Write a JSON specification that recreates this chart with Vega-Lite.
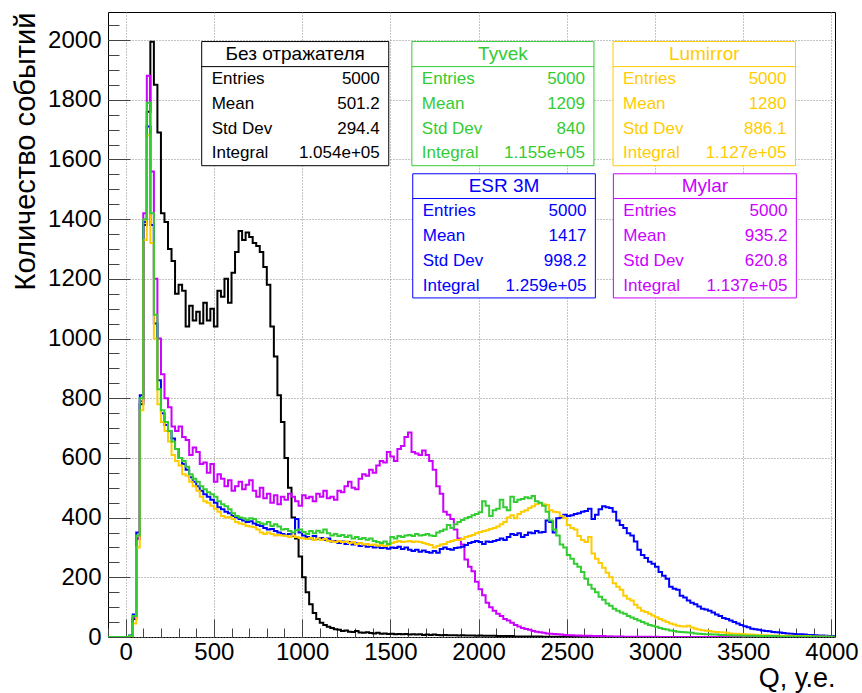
{
  "$schema": "https://vega.github.io/schema/vega-lite/v6.json",
  "width": 727,
  "height": 625,
  "autosize": "none",
  "padding": {"left": 108, "top": 12, "right": 27, "bottom": 56},
  "background": "white",
  "config": {
    "font": "Liberation Sans",
    "view": {"stroke": "#000000", "strokeWidth": 1},
    "axis": {"labelColor": "#000000", "titleColor": "#000000", "titleFontWeight": "normal", "tickColor": "#444444", "labelFlush": false, "labelOverlap": false, "labelBound": false}
  },
  "datasets": {
    "hist": [
      {"q":-100,"b":0,"t":0,"l":0,"e":0,"m":0},
      {"q":-80,"b":0,"t":0,"l":0,"e":0,"m":0},
      {"q":-60,"b":0,"t":0,"l":0,"e":0,"m":0},
      {"q":-40,"b":0,"t":0,"l":0,"e":0,"m":0},
      {"q":-20,"b":0,"t":0,"l":0,"e":0,"m":0},
      {"q":0,"b":0,"t":0,"l":0,"e":0,"m":0},
      {"q":20,"b":3,"t":4,"l":2,"e":5,"m":3},
      {"q":40,"b":60,"t":70,"l":45,"e":75,"m":65},
      {"q":60,"b":330,"t":340,"l":300,"e":350,"m":330},
      {"q":80,"b":780,"t":800,"l":760,"e":810,"m":790},
      {"q":100,"b":1380,"t":1400,"l":1330,"e":1390,"m":1420},
      {"q":120,"b":1760,"t":1790,"l":1680,"e":1710,"m":1880},
      {"q":140,"b":1994,"t":1420,"l":1320,"e":1380,"m":1560},
      {"q":160,"b":1850,"t":1080,"l":1000,"e":1050,"m":1200},
      {"q":180,"b":1690,"t":830,"l":780,"e":860,"m":1000},
      {"q":200,"b":1420,"t":760,"l":720,"e":750,"m":880},
      {"q":220,"b":1390,"t":720,"l":690,"e":710,"m":800},
      {"q":240,"b":1300,"t":690,"l":655,"e":690,"m":770},
      {"q":260,"b":1260,"t":655,"l":610,"e":665,"m":705},
      {"q":280,"b":1150,"t":630,"l":590,"e":630,"m":690},
      {"q":300,"b":1180,"t":600,"l":575,"e":600,"m":705},
      {"q":320,"b":1160,"t":590,"l":545,"e":580,"m":670},
      {"q":340,"b":1040,"t":570,"l":540,"e":560,"m":660},
      {"q":360,"b":1110,"t":545,"l":520,"e":535,"m":610},
      {"q":380,"b":1060,"t":530,"l":505,"e":520,"m":635},
      {"q":400,"b":1090,"t":520,"l":490,"e":505,"m":620},
      {"q":420,"b":1050,"t":505,"l":470,"e":490,"m":580},
      {"q":440,"b":1120,"t":495,"l":455,"e":478,"m":585},
      {"q":460,"b":1060,"t":485,"l":450,"e":470,"m":550},
      {"q":480,"b":1100,"t":478,"l":440,"e":460,"m":580},
      {"q":500,"b":1040,"t":470,"l":430,"e":450,"m":520},
      {"q":520,"b":1160,"t":455,"l":420,"e":435,"m":545},
      {"q":540,"b":1140,"t":445,"l":405,"e":428,"m":530},
      {"q":560,"b":1200,"t":438,"l":400,"e":420,"m":505},
      {"q":580,"b":1120,"t":428,"l":402,"e":415,"m":525},
      {"q":600,"b":1220,"t":415,"l":395,"e":405,"m":490},
      {"q":620,"b":1290,"t":405,"l":385,"e":400,"m":505},
      {"q":640,"b":1360,"t":400,"l":380,"e":395,"m":520},
      {"q":660,"b":1330,"t":398,"l":378,"e":390,"m":495},
      {"q":680,"b":1355,"t":392,"l":372,"e":385,"m":510},
      {"q":700,"b":1340,"t":398,"l":370,"e":388,"m":525},
      {"q":720,"b":1320,"t":395,"l":368,"e":380,"m":490},
      {"q":740,"b":1310,"t":385,"l":360,"e":375,"m":470},
      {"q":760,"b":1290,"t":380,"l":350,"e":372,"m":500},
      {"q":780,"b":1240,"t":378,"l":345,"e":365,"m":465},
      {"q":800,"b":1180,"t":385,"l":350,"e":360,"m":480},
      {"q":820,"b":1040,"t":372,"l":345,"e":362,"m":450},
      {"q":840,"b":940,"t":378,"l":340,"e":355,"m":475},
      {"q":860,"b":810,"t":370,"l":342,"e":350,"m":445},
      {"q":880,"b":720,"t":360,"l":340,"e":345,"m":470},
      {"q":900,"b":600,"t":362,"l":338,"e":340,"m":460},
      {"q":920,"b":500,"t":355,"l":335,"e":345,"m":480},
      {"q":940,"b":400,"t":350,"l":340,"e":338,"m":470},
      {"q":960,"b":330,"t":358,"l":335,"e":395,"m":455},
      {"q":980,"b":270,"t":360,"l":332,"e":350,"m":440},
      {"q":1000,"b":200,"t":352,"l":330,"e":340,"m":475},
      {"q":1020,"b":150,"t":345,"l":328,"e":335,"m":465},
      {"q":1040,"b":110,"t":355,"l":332,"e":330,"m":470},
      {"q":1060,"b":80,"t":348,"l":325,"e":338,"m":455},
      {"q":1080,"b":60,"t":356,"l":330,"e":328,"m":480},
      {"q":1100,"b":48,"t":350,"l":325,"e":332,"m":470},
      {"q":1120,"b":40,"t":360,"l":328,"e":325,"m":490},
      {"q":1140,"b":34,"t":348,"l":322,"e":330,"m":465},
      {"q":1160,"b":30,"t":340,"l":320,"e":320,"m":470},
      {"q":1180,"b":26,"t":345,"l":318,"e":322,"m":460},
      {"q":1200,"b":24,"t":338,"l":322,"e":315,"m":490},
      {"q":1220,"b":20,"t":342,"l":318,"e":320,"m":485},
      {"q":1240,"b":22,"t":335,"l":320,"e":312,"m":505},
      {"q":1260,"b":18,"t":340,"l":315,"e":318,"m":520},
      {"q":1280,"b":17,"t":330,"l":318,"e":310,"m":500},
      {"q":1300,"b":20,"t":335,"l":312,"e":314,"m":495},
      {"q":1320,"b":15,"t":328,"l":315,"e":305,"m":530},
      {"q":1340,"b":14,"t":332,"l":310,"e":308,"m":545},
      {"q":1360,"b":16,"t":326,"l":312,"e":302,"m":540},
      {"q":1380,"b":13,"t":330,"l":308,"e":305,"m":560},
      {"q":1400,"b":12,"t":322,"l":310,"e":300,"m":550},
      {"q":1420,"b":14,"t":318,"l":306,"e":302,"m":575},
      {"q":1440,"b":11,"t":315,"l":308,"e":298,"m":590},
      {"q":1460,"b":12,"t":320,"l":305,"e":300,"m":585},
      {"q":1480,"b":10,"t":312,"l":308,"e":296,"m":620},
      {"q":1500,"b":11,"t":335,"l":315,"e":300,"m":605},
      {"q":1520,"b":9,"t":330,"l":318,"e":298,"m":590},
      {"q":1540,"b":10,"t":338,"l":322,"e":302,"m":630},
      {"q":1560,"b":9,"t":335,"l":318,"e":295,"m":640},
      {"q":1580,"b":10,"t":340,"l":320,"e":300,"m":670},
      {"q":1600,"b":8,"t":342,"l":322,"e":292,"m":685},
      {"q":1620,"b":9,"t":338,"l":318,"e":288,"m":620},
      {"q":1640,"b":8,"t":345,"l":320,"e":292,"m":615},
      {"q":1660,"b":9,"t":340,"l":318,"e":286,"m":610},
      {"q":1680,"b":7,"t":342,"l":315,"e":290,"m":625},
      {"q":1700,"b":8,"t":345,"l":312,"e":285,"m":610},
      {"q":1720,"b":7,"t":340,"l":308,"e":282,"m":590},
      {"q":1740,"b":8,"t":338,"l":300,"e":288,"m":560},
      {"q":1760,"b":7,"t":350,"l":305,"e":282,"m":505},
      {"q":1780,"b":6,"t":355,"l":310,"e":295,"m":480},
      {"q":1800,"b":7,"t":360,"l":312,"e":300,"m":420},
      {"q":1820,"b":6,"t":375,"l":318,"e":295,"m":410},
      {"q":1840,"b":6,"t":365,"l":322,"e":292,"m":395},
      {"q":1860,"b":6,"t":378,"l":325,"e":298,"m":360},
      {"q":1880,"b":5,"t":385,"l":325,"e":300,"m":330},
      {"q":1900,"b":6,"t":392,"l":328,"e":302,"m":310},
      {"q":1920,"b":5,"t":398,"l":335,"e":308,"m":260},
      {"q":1940,"b":5,"t":402,"l":338,"e":315,"m":235},
      {"q":1960,"b":5,"t":408,"l":342,"e":318,"m":220},
      {"q":1980,"b":4,"t":412,"l":348,"e":322,"m":185},
      {"q":2000,"b":5,"t":418,"l":352,"e":318,"m":160},
      {"q":2020,"b":4,"t":455,"l":355,"e":312,"m":140},
      {"q":2040,"b":4,"t":440,"l":358,"e":320,"m":115},
      {"q":2060,"b":4,"t":405,"l":362,"e":318,"m":100},
      {"q":2080,"b":4,"t":425,"l":365,"e":322,"m":88},
      {"q":2100,"b":3,"t":430,"l":370,"e":325,"m":78},
      {"q":2120,"b":3,"t":460,"l":378,"e":330,"m":70},
      {"q":2140,"b":3,"t":435,"l":385,"e":325,"m":60},
      {"q":2160,"b":3,"t":425,"l":400,"e":335,"m":55},
      {"q":2180,"b":3,"t":470,"l":408,"e":345,"m":48},
      {"q":2200,"b":2,"t":452,"l":398,"e":342,"m":40},
      {"q":2220,"b":2,"t":460,"l":412,"e":348,"m":35},
      {"q":2240,"b":2,"t":462,"l":420,"e":335,"m":30},
      {"q":2260,"b":2,"t":468,"l":425,"e":342,"m":27},
      {"q":2280,"b":2,"t":465,"l":432,"e":350,"m":24},
      {"q":2300,"b":2,"t":472,"l":438,"e":348,"m":20},
      {"q":2320,"b":2,"t":455,"l":445,"e":355,"m":18},
      {"q":2340,"b":2,"t":450,"l":448,"e":350,"m":16},
      {"q":2360,"b":1,"t":440,"l":445,"e":352,"m":14},
      {"q":2380,"b":1,"t":420,"l":442,"e":390,"m":12},
      {"q":2400,"b":1,"t":390,"l":425,"e":385,"m":11},
      {"q":2420,"b":1,"t":360,"l":420,"e":350,"m":10},
      {"q":2440,"b":1,"t":340,"l":418,"e":398,"m":9},
      {"q":2460,"b":1,"t":310,"l":405,"e":400,"m":8},
      {"q":2480,"b":1,"t":300,"l":398,"e":410,"m":7},
      {"q":2500,"b":1,"t":275,"l":375,"e":405,"m":6},
      {"q":2520,"b":1,"t":262,"l":365,"e":408,"m":6},
      {"q":2540,"b":1,"t":245,"l":360,"e":412,"m":5},
      {"q":2560,"b":1,"t":235,"l":338,"e":415,"m":5},
      {"q":2580,"b":1,"t":218,"l":325,"e":420,"m":4},
      {"q":2600,"b":1,"t":195,"l":318,"e":422,"m":4},
      {"q":2620,"b":1,"t":175,"l":335,"e":430,"m":4},
      {"q":2640,"b":1,"t":162,"l":280,"e":395,"m":3},
      {"q":2660,"b":0,"t":150,"l":262,"e":410,"m":3},
      {"q":2680,"b":1,"t":135,"l":248,"e":428,"m":3},
      {"q":2700,"b":0,"t":125,"l":232,"e":438,"m":3},
      {"q":2720,"b":0,"t":112,"l":215,"e":435,"m":2},
      {"q":2740,"b":1,"t":105,"l":200,"e":432,"m":2},
      {"q":2760,"b":0,"t":95,"l":180,"e":420,"m":2},
      {"q":2780,"b":0,"t":88,"l":168,"e":390,"m":2},
      {"q":2800,"b":0,"t":82,"l":158,"e":375,"m":2},
      {"q":2820,"b":0,"t":78,"l":138,"e":365,"m":1},
      {"q":2840,"b":0,"t":70,"l":128,"e":348,"m":1},
      {"q":2860,"b":0,"t":65,"l":122,"e":340,"m":1},
      {"q":2880,"b":0,"t":60,"l":108,"e":320,"m":1},
      {"q":2900,"b":0,"t":55,"l":98,"e":292,"m":1},
      {"q":2920,"b":0,"t":50,"l":88,"e":275,"m":1},
      {"q":2940,"b":0,"t":45,"l":84,"e":265,"m":1},
      {"q":2960,"b":0,"t":40,"l":78,"e":252,"m":1},
      {"q":2980,"b":0,"t":38,"l":72,"e":245,"m":0},
      {"q":3000,"b":0,"t":34,"l":66,"e":235,"m":1},
      {"q":3020,"b":0,"t":30,"l":60,"e":218,"m":0},
      {"q":3040,"b":0,"t":27,"l":55,"e":205,"m":0},
      {"q":3060,"b":0,"t":25,"l":50,"e":195,"m":0},
      {"q":3080,"b":0,"t":22,"l":45,"e":168,"m":0},
      {"q":3100,"b":0,"t":20,"l":42,"e":162,"m":0},
      {"q":3120,"b":0,"t":18,"l":38,"e":158,"m":0},
      {"q":3140,"b":0,"t":17,"l":36,"e":138,"m":0},
      {"q":3160,"b":0,"t":16,"l":35,"e":132,"m":0},
      {"q":3180,"b":0,"t":15,"l":38,"e":122,"m":0},
      {"q":3200,"b":0,"t":14,"l":32,"e":115,"m":0},
      {"q":3220,"b":0,"t":12,"l":28,"e":110,"m":0},
      {"q":3240,"b":0,"t":11,"l":25,"e":102,"m":0},
      {"q":3260,"b":0,"t":10,"l":23,"e":95,"m":0},
      {"q":3280,"b":0,"t":9,"l":21,"e":92,"m":0},
      {"q":3300,"b":0,"t":9,"l":20,"e":88,"m":0},
      {"q":3320,"b":0,"t":8,"l":18,"e":82,"m":0},
      {"q":3340,"b":0,"t":8,"l":17,"e":75,"m":0},
      {"q":3360,"b":0,"t":7,"l":16,"e":70,"m":0},
      {"q":3380,"b":0,"t":7,"l":15,"e":64,"m":0},
      {"q":3400,"b":0,"t":6,"l":14,"e":60,"m":0},
      {"q":3420,"b":0,"t":6,"l":12,"e":55,"m":0},
      {"q":3440,"b":0,"t":5,"l":11,"e":50,"m":0},
      {"q":3460,"b":0,"t":5,"l":11,"e":45,"m":0},
      {"q":3480,"b":0,"t":5,"l":10,"e":40,"m":0},
      {"q":3500,"b":0,"t":4,"l":9,"e":36,"m":0},
      {"q":3520,"b":0,"t":4,"l":8,"e":33,"m":0},
      {"q":3540,"b":0,"t":4,"l":8,"e":28,"m":0},
      {"q":3560,"b":0,"t":4,"l":7,"e":26,"m":0},
      {"q":3580,"b":0,"t":3,"l":7,"e":24,"m":0},
      {"q":3600,"b":0,"t":3,"l":6,"e":22,"m":0},
      {"q":3620,"b":0,"t":3,"l":6,"e":20,"m":0},
      {"q":3640,"b":0,"t":3,"l":5,"e":19,"m":0},
      {"q":3660,"b":0,"t":3,"l":5,"e":17,"m":0},
      {"q":3680,"b":0,"t":3,"l":5,"e":16,"m":0},
      {"q":3700,"b":0,"t":2,"l":4,"e":15,"m":0},
      {"q":3720,"b":0,"t":2,"l":4,"e":13,"m":0},
      {"q":3740,"b":0,"t":2,"l":4,"e":12,"m":0},
      {"q":3760,"b":0,"t":2,"l":4,"e":11,"m":0},
      {"q":3780,"b":0,"t":2,"l":3,"e":10,"m":0},
      {"q":3800,"b":0,"t":2,"l":3,"e":9,"m":0},
      {"q":3820,"b":0,"t":2,"l":3,"e":9,"m":0},
      {"q":3840,"b":0,"t":2,"l":3,"e":8,"m":0},
      {"q":3860,"b":0,"t":2,"l":3,"e":7,"m":0},
      {"q":3880,"b":0,"t":2,"l":2,"e":7,"m":0},
      {"q":3900,"b":0,"t":1,"l":2,"e":6,"m":0},
      {"q":3920,"b":0,"t":1,"l":2,"e":5,"m":0},
      {"q":3940,"b":0,"t":1,"l":2,"e":5,"m":0},
      {"q":3960,"b":0,"t":1,"l":2,"e":4,"m":0},
      {"q":3980,"b":0,"t":1,"l":1,"e":3,"m":0},
      {"q":4000,"b":0,"t":1,"l":1,"e":3,"m":0},
      {"q":4020,"b":0,"t":1,"l":1,"e":3,"m":0}
    ],
    "boxes": [
      {"key":"b","title":"Без отражателя","qL":431,"qR":1491,"vT":1995,"vS":1911,"vB":1579},
      {"key":"t","title":"Tyvek","qL":1622,"qR":2654,"vT":1995,"vS":1911,"vB":1579},
      {"key":"l","title":"Lumirror","qL":2762,"qR":3796,"vT":1995,"vS":1911,"vB":1579},
      {"key":"e","title":"ESR 3M","qL":1627,"qR":2662,"vT":1552,"vS":1469,"vB":1136},
      {"key":"m","title":"Mylar","qL":2764,"qR":3801,"vT":1552,"vS":1469,"vB":1136}
    ],
    "stats": [
      {"key":"b","i":0,"label":"Entries","val":"5000"},
      {"key":"b","i":1,"label":"Mean","val":"501.2"},
      {"key":"b","i":2,"label":"Std Dev","val":"294.4"},
      {"key":"b","i":3,"label":"Integral","val":"1.054e+05"},
      {"key":"t","i":0,"label":"Entries","val":"5000"},
      {"key":"t","i":1,"label":"Mean","val":"1209"},
      {"key":"t","i":2,"label":"Std Dev","val":"840"},
      {"key":"t","i":3,"label":"Integral","val":"1.155e+05"},
      {"key":"l","i":0,"label":"Entries","val":"5000"},
      {"key":"l","i":1,"label":"Mean","val":"1280"},
      {"key":"l","i":2,"label":"Std Dev","val":"886.1"},
      {"key":"l","i":3,"label":"Integral","val":"1.127e+05"},
      {"key":"e","i":0,"label":"Entries","val":"5000"},
      {"key":"e","i":1,"label":"Mean","val":"1417"},
      {"key":"e","i":2,"label":"Std Dev","val":"998.2"},
      {"key":"e","i":3,"label":"Integral","val":"1.259e+05"},
      {"key":"m","i":0,"label":"Entries","val":"5000"},
      {"key":"m","i":1,"label":"Mean","val":"935.2"},
      {"key":"m","i":2,"label":"Std Dev","val":"620.8"},
      {"key":"m","i":3,"label":"Integral","val":"1.137e+05"}
    ]
  },
  "resolve": {"axis": {"x": "independent", "y": "independent"}},
  "layer": [
    {
      "data": {"name": "hist"},
      "transform": [{"fold": ["b", "m", "e", "l", "t"], "as": ["key", "value"]}],
      "mark": {"type": "line", "interpolate": "step-after", "strokeWidth": 2, "clip": true},
      "encoding": {
        "x": {
          "field": "q", "type": "quantitative",
          "scale": {"domain": [-100, 4020], "nice": false, "zero": false},
          "axis": {
            "orient": "bottom", "format": "d",
            "values": [0, 500, 1000, 1500, 2000, 2500, 3000, 3500, 4000],
            "labelFontSize": 24, "labelPadding": 21, "tickSize": -18, "tickWidth": 1,
            "domain": false, "grid": true, "gridColor": "#888888", "gridDash": [1, 2], "gridWidth": 1,
            "title": "Q, у.е.", "titleFontSize": 27, "titleAnchor": "end", "titleAlign": "right", "titlePadding": 1
          }
        },
        "y": {
          "field": "value", "type": "quantitative",
          "scale": {"domain": [0, 2094], "nice": false, "zero": true},
          "axis": {
            "orient": "left", "format": "d",
            "values": [0, 200, 400, 600, 800, 1000, 1200, 1400, 1600, 1800, 2000],
            "labelFontSize": 24, "labelPadding": 29, "tickSize": -22, "tickWidth": 1,
            "domain": false, "grid": true, "gridColor": "#888888", "gridDash": [1, 2], "gridWidth": 1,
            "title": "Количество событий", "titleFontSize": 29, "titleAnchor": "end", "titlePadding": 7
          }
        },
        "color": {
          "field": "key", "type": "nominal", "legend": null,
          "scale": {"domain": ["b", "t", "l", "e", "m"], "range": ["#000000", "#33cc33", "#ffcc00", "#0000ff", "#cc00ff"]}
        }
      }
    },
    {
      "data": {"name": "boxes"},
      "mark": {"type": "rect", "fill": "#ffffff", "strokeWidth": 1},
      "encoding": {
        "x": {
          "field": "qL", "type": "quantitative",
          "axis": {
            "orient": "bottom", "labels": false, "grid": false, "domain": false, "title": null,
            "tickSize": -9, "tickWidth": 1,
            "values": [-100, 100, 200, 300, 400, 600, 700, 800, 900, 1100, 1200, 1300, 1400, 1600, 1700, 1800, 1900, 2100, 2200, 2300, 2400, 2600, 2700, 2800, 2900, 3100, 3200, 3300, 3400, 3600, 3700, 3800, 3900]
          }
        },
        "x2": {"field": "qR"},
        "y": {
          "field": "vT", "type": "quantitative",
          "axis": {
            "orient": "left", "labels": false, "grid": false, "domain": false, "title": null,
            "tickSize": -11, "tickWidth": 1,
            "values": [50, 100, 150, 250, 300, 350, 450, 500, 550, 650, 700, 750, 850, 900, 950, 1050, 1100, 1150, 1250, 1300, 1350, 1450, 1500, 1550, 1650, 1700, 1750, 1850, 1900, 1950, 2050]
          }
        },
        "y2": {"field": "vB"},
        "stroke": {
          "field": "key", "type": "nominal", "legend": null,
          "scale": {"domain": ["b", "t", "l", "e", "m"], "range": ["#000000", "#33cc33", "#ffcc00", "#0000ff", "#cc00ff"]}
        }
      }
    },
    {
      "data": {"name": "boxes"},
      "mark": {"type": "rule", "strokeWidth": 1},
      "encoding": {
        "x": {"field": "qL", "type": "quantitative", "axis": null},
        "x2": {"field": "qR"},
        "y": {"field": "vS", "type": "quantitative", "axis": null},
        "color": {"field": "key", "type": "nominal", "legend": null}
      }
    },
    {
      "data": {"name": "boxes"},
      "transform": [
        {"calculate": "(datum.qL + datum.qR) / 2", "as": "qC"},
        {"calculate": "(datum.vT + datum.vS) / 2", "as": "vH"}
      ],
      "mark": {"type": "text", "fontSize": 19, "align": "center", "baseline": "middle"},
      "encoding": {
        "x": {"field": "qC", "type": "quantitative", "axis": null},
        "y": {"field": "vH", "type": "quantitative", "axis": null},
        "text": {"field": "title"},
        "color": {"field": "key", "type": "nominal", "legend": null}
      }
    },
    {
      "data": {"name": "stats"},
      "transform": [
        {"lookup": "key", "from": {"data": {"name": "boxes"}, "key": "key", "fields": ["qL", "qR", "vS", "vB"]}},
        {"calculate": "datum.vS - (datum.i + 0.5) * (datum.vS - datum.vB) / 4", "as": "vRow"}
      ],
      "mark": {"type": "text", "fontSize": 17, "align": "left", "baseline": "middle", "dx": 10},
      "encoding": {
        "x": {"field": "qL", "type": "quantitative", "axis": null},
        "y": {"field": "vRow", "type": "quantitative", "axis": null},
        "text": {"field": "label"},
        "color": {"field": "key", "type": "nominal", "legend": null}
      }
    },
    {
      "data": {"name": "stats"},
      "transform": [
        {"lookup": "key", "from": {"data": {"name": "boxes"}, "key": "key", "fields": ["qL", "qR", "vS", "vB"]}},
        {"calculate": "datum.vS - (datum.i + 0.5) * (datum.vS - datum.vB) / 4", "as": "vRow"}
      ],
      "mark": {"type": "text", "fontSize": 17, "align": "right", "baseline": "middle", "dx": -9},
      "encoding": {
        "x": {"field": "qR", "type": "quantitative", "axis": null},
        "y": {"field": "vRow", "type": "quantitative", "axis": null},
        "text": {"field": "val"},
        "color": {"field": "key", "type": "nominal", "legend": null}
      }
    }
  ]
}
